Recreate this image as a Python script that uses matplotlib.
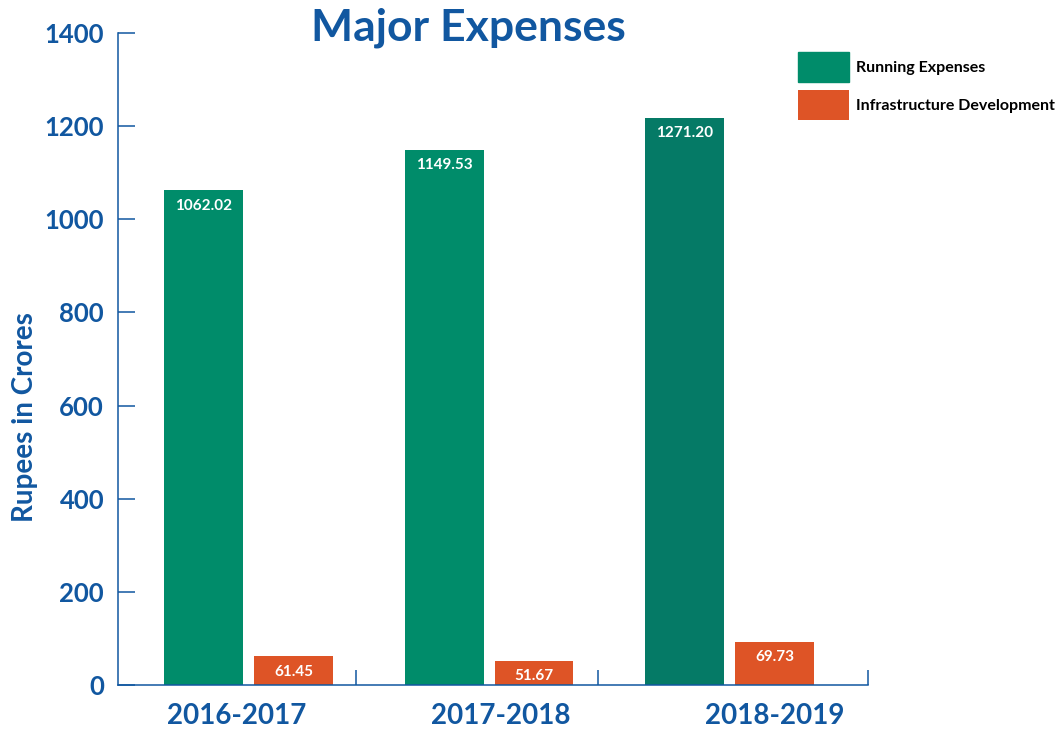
import numpy as np
import matplotlib.pyplot as plt

years = ['2016-2017', '2017-2018', '2018-2019']
# bar heights as drawn in the picture, labels as printed on the bars
running = [1062.02, 1149.53, 1218]
running_labels = ['1062.02', '1149.53', '1271.20']
infra = [61.45, 51.67, 92]
infra_labels = ['61.45', '51.67', '69.73']
yticks = [0, 200, 400, 600, 800, 1000, 1200, 1400]

blue = '#1157a0'
green = '#008c6a'
green_dark = '#057a66'
orange = '#de5426'

plt.rcParams['font.family'] = ['Lato', 'DejaVu Sans']

fig = plt.figure(figsize=(10.6, 7.31), dpi=100)
ax = fig.add_axes([118/1060, 1 - 685/731, 750/1060, 652/731])

x = np.arange(len(years))
w = 0.328
off = 0.187
g = ax.bar(x - off, running, w, color=[green, green, green_dark], label='Running Expenses')
o = ax.bar(x + off, infra, w, color=orange, label='Infrastructure Development')

# value labels inside the top of each bar
for bars, labels in ((g, running_labels), (o, infra_labels)):
  for b, lab in zip(bars, labels):
    ax.annotate(lab, (b.get_x() + b.get_width() / 2, b.get_height()),
                xytext=(0, -11), textcoords='offset points',
                ha='center', va='center', color='white',
                fontsize=11, fontweight='bold')

ax.set_xlim(-0.543, 2.576)
ax.set_ylim(0, 1400)

for s in ('top', 'right'):
  ax.spines[s].set_visible(False)
for s in ('left', 'bottom'):
  ax.spines[s].set_color(blue)
  ax.spines[s].set_linewidth(1.1)

ax.set_yticks(yticks)
ax.tick_params(axis='y', direction='in', length=12, width=1.1, color=blue,
               labelsize=18.5, labelcolor=blue, pad=10)
for t in ax.get_yticklabels():
  t.set_fontweight('bold')

# group separators on the x axis
ax.set_xticks([0.447, 1.453, 2.576])
ax.set_xticklabels([])
ax.tick_params(axis='x', direction='in', length=11, width=1.1, color=blue)

for xp, lab in zip([-0.05, 1.05, 2.19], years):
  ax.text(xp, -0.048, lab, transform=ax.get_xaxis_transform(), ha='center', va='center',
          fontsize=20, fontweight='bold', color=blue)

fig.text(25/1060, 1 - 417/731, 'Rupees in Crores', rotation=90, ha='center', va='center',
         fontsize=20, fontweight='bold', color=blue)
fig.text(468/1060, 1 - 28/731, 'Major Expenses', ha='center', va='center',
         fontsize=32, fontweight='bold', color=blue)

leg = fig.legend(handles=[g, o], loc='upper left', bbox_to_anchor=(798/1060, 1 - 52/731),
                 frameon=False, borderpad=0, borderaxespad=0, handlelength=3.2,
                 handleheight=2.5, labelspacing=0.5, handletextpad=0.45,
                 prop={'size': 11.5, 'weight': 'bold'})
leg.legend_handles[0].set_color(green)

fig.savefig('out.png', dpi=100)
